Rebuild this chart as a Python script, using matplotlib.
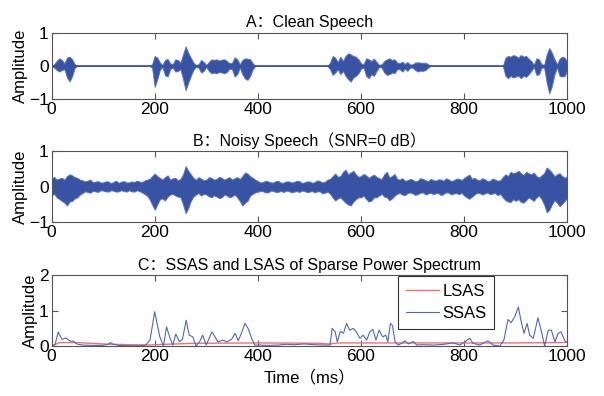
import numpy as np
import matplotlib
matplotlib.use('Agg')
import matplotlib.pyplot as plt

plt.rcParams['font.family'] = ['Liberation Sans', 'Noto Sans CJK SC', 'DejaVu Sans']

# clean speech envelope, 5 ms steps (0..1000)
t_a = np.arange(0, 1001, 5)
clean_up = [0, .05, .15, .23, .18, .08, .25, .28, .2, .05, 0, 0, 0, 0, 0, 0, 0, 0, 0, 0,
            0, 0, 0, 0, 0, 0, 0, 0, 0, 0, 0, 0, 0, 0, 0, 0, 0, 0, 0, .05,
            .3, .25, .1, .03, .18, .21, .08, .05, .2, .18, .1, .35, .59, .4, .25, .1, .03, .05, .18, .12,
            .03, .12, .2, .18, .2, .16, .19, .2, .15, .08, .1, .26, .2, .05, .18, .23, .22, .2, .08, 0,
            0, 0, 0, 0, 0, 0, 0, 0, 0, 0, 0, 0, 0, 0, 0, 0, 0, 0, 0, 0,
            0, 0, 0, 0, 0, 0, 0, 0, .1, .3, .25, .12, .28, .15, .3, .38, .35, .3, .28, .2,
            .08, .05, .23, .2, .15, .22, .12, .03, .05, .15, .2, .23, .18, .2, .1, .08, .13, .06, .12, .04,
            .05, .1, .11, .1, .09, .1, .05, 0, 0, 0, 0, 0, 0, 0, 0, 0, 0, 0, 0, 0,
            0, 0, 0, 0, 0, 0, 0, 0, 0, 0, 0, 0, 0, 0, 0, 0, .25, .3, .28, .33,
            .3, .25, .33, .28, .3, .22, .15, .03, .23, .2, .05, .03, .35, .54, .4, .2, .05, .22, .28, .25,
            .1]
clean_lo = [0, -.05, -.12, -.17, -.12, -.1, -.35, -.47, -.3, -.05, 0, 0, 0, 0, 0, 0, 0, 0, 0, 0,
            0, 0, 0, 0, 0, 0, 0, 0, 0, 0, 0, 0, 0, 0, 0, 0, 0, 0, 0, -.05,
            -.63, -.4, -.12, -.03, -.28, -.32, -.1, -.05, -.17, -.15, -.1, -.4, -.73, -.5, -.3, -.12, -.03, -.05, -.2, -.15,
            -.03, -.15, -.22, -.2, -.22, -.18, -.2, -.22, -.18, -.08, -.1, -.32, -.25, -.05, -.25, -.38, -.42, -.3, -.1, 0,
            0, 0, 0, 0, 0, 0, 0, 0, 0, 0, 0, 0, 0, 0, 0, 0, 0, 0, 0, 0,
            0, 0, 0, 0, 0, 0, 0, 0, -.1, -.27, -.2, -.1, -.25, -.15, -.3, -.4, -.47, -.35, -.3, -.22,
            -.08, -.05, -.3, -.37, -.25, -.3, -.15, -.03, -.05, -.2, -.27, -.25, -.2, -.22, -.1, -.1, -.17, -.08, -.15, -.05,
            -.05, -.12, -.17, -.14, -.15, -.12, -.05, 0, 0, 0, 0, 0, 0, 0, 0, 0, 0, 0, 0, 0,
            0, 0, 0, 0, 0, 0, 0, 0, 0, 0, 0, 0, 0, 0, 0, 0, -.3, -.37, -.3, -.35,
            -.32, -.3, -.37, -.3, -.33, -.25, -.15, -.03, -.27, -.25, -.05, -.05, -.5, -.83, -.6, -.25, -.05, -.3, -.32, -.3,
            -.1]

# noisy speech envelope: values at 0,10,...,1000 ms and at 5,15,...,995 ms
noisy_up = [.22, .2, .25, .3, .32, .25, .18, .17, .13, .16,
            .12, .15, .13, .11, .16, .12, .13, .15, .17, .22,
            .37, .25, .27, .2, .25, .22, .58, .35, .2, .23,
            .2, .25, .22, .25, .24, .2, .27, .3, .37, .25,
            .16, .13, .15, .12, .16, .12, .15, .13, .16, .12,
            .15, .13, .16, .14, .22, .37, .3, .48, .4, .35,
            .3, .32, .3, .28, .22, .42, .3, .22, .24, .18,
            .2, .17, .22, .16, .19, .21, .17, .2, .18, .22,
            .25, .34, .25, .18, .21, .17, .2, .18, .35, .42,
            .4, .38, .42, .35, .3, .32, .54, .4, .35, .3,
            .3]
noisy_up_mid = [.28, .23, .2, .35, .27, .2, .15, .2, .14, .12,
                .15, .1, .17, .14, .12, .15, .17, .13, .2, .3,
                .3, .2, .32, .24, .18, .35, .45, .25, .27, .18,
                .27, .2, .28, .2, .27, .24, .22, .4, .3, .2,
                .12, .17, .12, .16, .11, .15, .12, .17, .11, .15,
                .11, .18, .12, .2, .3, .28, .42, .35, .45, .28,
                .36, .25, .34, .24, .35, .26, .36, .2, .17, .22,
                .15, .24, .18, .22, .17, .2, .24, .16, .23, .19,
                .3, .22, .2, .24, .16, .23, .17, .28, .3, .38,
                .45, .33, .38, .4, .26, .38, .48, .3, .38, .25]
noisy_lo = [-.25, -.3, -.4, -.53, -.4, -.3, -.18, -.15, -.12, -.15,
            -.11, -.14, -.11, -.13, -.12, -.1, -.14, -.12, -.2, -.35,
            -.65, -.35, -.39, -.22, -.25, -.3, -.75, -.4, -.22, -.25,
            -.22, -.3, -.28, -.3, -.25, -.27, -.3, -.53, -.4, -.2,
            -.14, -.13, -.16, -.12, -.14, -.15, -.12, -.14, -.15, -.12,
            -.14, -.16, -.13, -.17, -.2, -.39, -.3, -.45, -.53, -.35,
            -.3, -.35, -.39, -.3, -.2, -.3, -.33, -.2, -.22, -.18,
            -.19, -.21, -.16, -.19, -.21, -.18, -.2, -.17, -.19, -.21,
            -.25, -.34, -.22, -.18, -.19, -.21, -.18, -.2, -.38, -.43,
            -.4, -.43, -.38, -.35, -.3, -.35, -.72, -.5, -.45, -.48,
            -.3]
noisy_lo_mid = [-.2, -.35, -.45, -.42, -.33, -.22, -.13, -.17, -.13, -.1,
                -.13, -.1, -.14, -.1, -.14, -.13, -.1, -.16, -.25, -.5,
                -.5, -.33, -.28, -.2, -.28, -.5, -.6, -.28, -.18, -.2,
                -.27, -.24, -.32, -.22, -.3, -.22, -.4, -.45, -.25, -.16,
                -.12, -.16, -.11, -.15, -.12, -.11, -.16, -.12, -.11, -.15,
                -.12, -.13, -.19, -.14, -.3, -.33, -.38, -.5, -.42, -.3,
                -.25, -.42, -.3, -.25, -.28, -.38, -.25, -.18, -.24, -.16,
                -.23, -.17, -.22, -.17, -.18, -.24, -.16, -.22, -.18, -.17,
                -.3, -.28, -.17, -.22, -.16, -.19, -.24, -.3, -.42, -.35,
                -.35, -.45, -.3, -.4, -.25, -.5, -.65, -.38, -.55, -.4]

# SSAS / LSAS
ssas_t = [0, 7, 13, 20, 28, 36, 42, 49, 60, 80, 100, 110, 114, 118, 130, 150, 170, 183, 191,
          200, 210, 217, 223, 230, 235, 241, 248, 254, 261, 267, 274, 280, 287, 293, 300,
          304, 311, 317, 323, 332, 340, 349, 356, 362, 368, 375, 381, 388, 394, 404,
          420, 440, 455, 470, 490, 510, 530, 540, 544, 550, 554, 560, 566, 572, 578, 585,
          591, 598, 604, 611, 617, 623, 629, 635, 642, 648, 652, 657, 661, 666, 672, 679,
          685, 692, 701, 708, 720, 740, 760, 779, 792, 811, 817, 830, 846, 856, 869, 877,
          885, 891, 898, 905, 910, 916, 922, 927, 934, 943, 950, 956, 963, 969, 976, 982,
          988, 995, 1000]
ssas_v = [0, .05, .4, .19, .23, .14, .14, .06, .03, .02, .02, .05, .1, .06, .02, .01, .01, .03, .17,
          .97, .26, 0, .54, .22, .03, .34, .12, .2, .73, .31, .26, 0, .12, .31, .03,
          .17, .4, .26, .12, .17, .12, .19, .36, .15, .36, .64, .5, .22, .03, .03,
          .02, .03, .05, .04, .06, .04, .03, .03, .5, .4, .12, .42, .36, .64, .45, .5,
          .4, .22, .31, .17, .4, .47, .17, .45, .26, .31, .12, .64, .58, .12, .03, .08,
          .15, .06, .13, .03, .04, .03, .05, .09, .03, .22, .08, .03, .15, .03, 0, .17,
          .75, .66, .83, 1.1, .73, .36, .64, .31, .22, .8, .4, 0, .45, .45, .12, .36,
          .4, .15, .1]
lsas_t = [0, 8, 15, 50, 100, 150, 190, 220, 280, 400, 520, 540, 555, 700, 900, 990, 1000]
lsas_v = [0, .05, .1, .1, .06, .04, .03, .05, .08, .09, .08, .06, .09, .09, .09, .1, .11]

# interleave the two noisy sample sets into one 5 ms series
t_b = np.arange(0, 1001, 5)
b_up = np.empty(201)
b_lo = np.empty(201)
b_up[0::2], b_up[1::2] = noisy_up, noisy_up_mid
b_lo[0::2], b_lo[1::2] = noisy_lo, noisy_lo_mid

wave_c = '#3853a4'
edge_c = '#5a72bb'
frame_c = '#555555'


def style(ax, ylim, yticks):
    ax.set_xlim(0, 1000)
    ax.set_ylim(*ylim)
    ax.set_xticks([0, 200, 400, 600, 800, 1000])
    ax.set_yticks(yticks)
    ax.tick_params(direction='in', top=True, right=True, length=4, width=0.8,
                   labelsize=12.5, color=frame_c, pad=2)
    for s in ax.spines.values():
        s.set_color(frame_c)
        s.set_linewidth(0.8)
    ax.set_ylabel('Amplitude', fontsize=12, labelpad=1)


fig = plt.figure(figsize=(6.04, 3.96), dpi=100)
L, W = 0.0853, 0.854
axA = fig.add_axes([L, 0.750, W, 0.167])
axB = fig.add_axes([L, 0.439, W, 0.179])
axC = fig.add_axes([L, 0.126, W, 0.179])

axA.fill_between(t_a, clean_lo, clean_up, facecolor=wave_c, lw=0.7, edgecolor=edge_c)
axA.plot([0, 1000], [0, 0], color=wave_c, lw=1.2)
style(axA, (-1, 1), [-1, 0, 1])
axA.set_title('A：Clean Speech', fontsize=11.5, pad=4)

axB.fill_between(t_b, b_lo, b_up, facecolor=wave_c, lw=0.7, edgecolor=edge_c)
style(axB, (-1, 1), [-1, 0, 1])
axB.set_title('B：Noisy Speech（SNR=0 dB）', fontsize=11.5, pad=4)

axC.plot(lsas_t, lsas_v, color='#f07070', lw=1.0, label='LSAS')
axC.plot(ssas_t, ssas_v, color='#5068b6', lw=0.8, label='SSAS')
style(axC, (0, 2), [0, 1, 2])
axC.set_title('C：SSAS and LSAS of Sparse Power Spectrum', fontsize=11.5, pad=4)
axC.set_xlabel('Time（ms）', fontsize=12, labelpad=4)
leg = axC.legend(loc='upper right', bbox_to_anchor=(0.858, 0.986), borderaxespad=0,
                 fontsize=12, fancybox=False, framealpha=1, edgecolor='#333333',
                 handlelength=2.0, handletextpad=0.2, borderpad=0.45, labelspacing=0.45)
leg.get_frame().set_linewidth(0.8)

fig.savefig('out.png', dpi=100)
